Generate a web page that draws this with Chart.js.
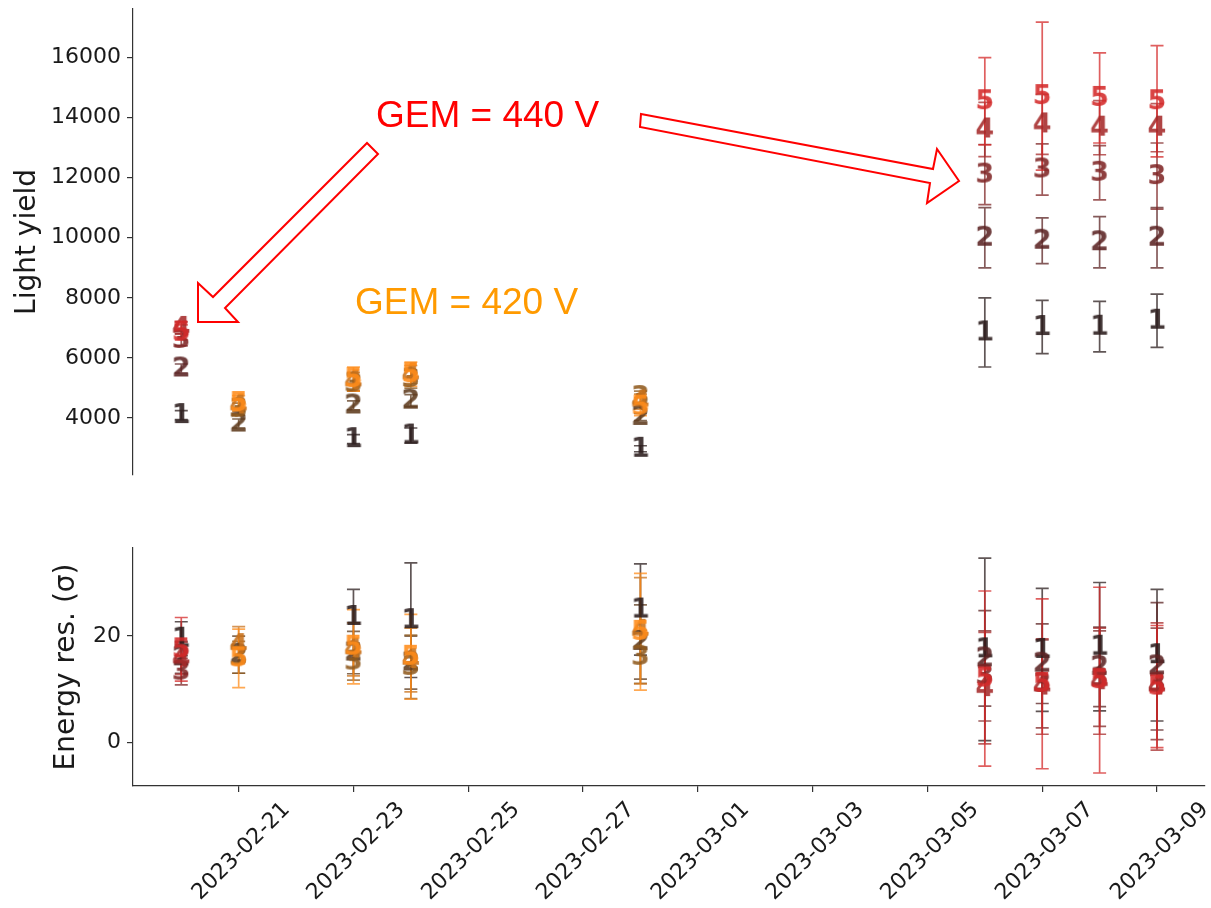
<!DOCTYPE html>
<html lang="en">
<head>
<meta charset="UTF-8">
<title>Light yield and energy resolution vs date</title>
<script src="https://cdn.jsdelivr.net/npm/chart.js"></script>
<style>
    body { margin: 0; background: #fff; }
    #wrap { position: relative; width: 1211px; height: 908px; }
    .panel { position: absolute; left: 0; width: 1211px; }
    #top { top: 0; height: 480px; }
    #bottom { top: 500px; height: 408px; }
</style>
</head>
<body>
<div id="wrap">
    <div class="panel" id="top"><canvas id="lyChart"></canvas></div>
    <div class="panel" id="bottom"><canvas id="resChart"></canvas></div>
</div>

<script>
// measurement days and GEM voltage used that day
const dates = ['2023-02-20', '2023-02-21', '2023-02-23', '2023-02-24', '2023-02-28',
               '2023-03-06', '2023-03-07', '2023-03-08', '2023-03-09'];
const gem = [440, 420, 420, 420, 420, 440, 440, 440, 440];

// light yield per spot (1..5) and its error
const ly1 = [4100, null, 3300, 3420, 2980, 6850, 7030, 7040, 7240];
const ly2 = [5650, 3820, 4420, 4580, 4040, 10000, 9900, 9850, 10000];
const ly3 = [6600, 4300, 5150, 5300, 4700, 12100, 12270, 12160, 12050];
const ly4 = [7000, 4420, 5220, 5450, 4550, 13600, 13770, 13660, 13660];
const ly5 = [6850, 4500, 5300, 5460, 4380, 14540, 14710, 14650, 14540];
const lyErr1 = [150, null, 150, 250, 100, 1150, 885, 840, 885];
const lyErr2 = [150, 150, 150, 200, 120, 1000, 760, 850, 1000];
const lyErr3 = [200, 200, 250, 300, 200, 1000, 850, 900, 1100];
const lyErr4 = [200, 200, 300, 300, 250, 900, 1000, 900, 800];
const lyErr5 = [250, 250, 400, 400, 300, 1450, 2460, 1500, 1850];

// energy resolution (sigma) per spot and its error
const res1 = [19.5, null, 23.6, 23.0, 25.0, 17.5, 17.4, 18.0, 16.4];
const res2 = [16.0, 16.5, 16.9, 15.0, 18.9, 15.8, 14.8, 14.2, 14.3];
const res3 = [13.3, 16.0, 15.2, 14.2, 16.1, 12.5, 11.0, 12.0, 11.0];
const res4 = [15.8, 18.3, 17.5, 15.5, 21.0, 10.2, 10.5, 11.5, 10.5];
const res5 = [17.5, 15.8, 18.0, 16.1, 20.8, 12.0, 11.0, 11.7, 10.5];
const resErr1 = [3.2, null, 5.2, 10.8, 8.6, 17.2, 11.6, 12.1, 12.4];
const resErr2 = [3.0, 3.5, 4.0, 5.0, 7.0, 9.0, 7.5, 7.5, 12.0];
const resErr3 = [2.5, 3.0, 3.5, 6.0, 5.0, 8.5, 8.3, 9.0, 10.5];
const resErr4 = [3.0, 3.5, 5.0, 6.0, 10.0, 10.5, 9.0, 10.0, 12.0];
const resErr5 = [6.0, 5.5, 7.0, 8.0, 11.0, 16.5, 16.0, 17.5, 11.5];

// axis ticks
const tickDates = ['2023-02-21', '2023-02-23', '2023-02-25', '2023-02-27', '2023-03-01',
                   '2023-03-03', '2023-03-05', '2023-03-07', '2023-03-09'];
const lyTicks = [4000, 6000, 8000, 10000, 12000, 14000, 16000];
const resTicks = [0, 20];

// colours of spots 1..5 for each voltage
const palette = {
    440: ['43,29,29', '91,35,35', '127,38,38', '165,42,42', '212,42,42'],
    420: ['43,29,29', '94,59,30', '143,90,30', '200,114,28', '255,140,26']
};

const day0 = Date.UTC(2023, 1, 20);
const dayNum = d => (Date.parse(d + 'T00:00:00Z') - day0) / 86400000;

const markers = {};
function marker(ch, v) {
    const key = ch + '_' + v;
    if (!markers[key]) {
        const c = document.createElement('canvas');
        c.width = 26; c.height = 30;
        const g = c.getContext('2d');
        g.font = 'bold 27px "DejaVu Sans"';
        g.textAlign = 'center';
        g.textBaseline = 'middle';
        g.fillStyle = 'rgba(' + palette[v][ch - 1] + ',0.88)';
        g.fillText(String(ch), 13, 16);
        markers[key] = c;
    }
    return markers[key];
}

// spot 5 drawn last (on top), like the original plot
function makeSets(series, errs) {
    return series.map((vals, k) => ({
        label: String(k + 1),
        data: dates.map((d, i) => ({ x: dayNum(d), y: vals[i] })),
        err: errs[k],
        spot: k + 1,
        order: series.length - 1 - k,
        pointStyle: ctx => marker(k + 1, gem[ctx.dataIndex]),
        showLine: false
    }));
}

// error bars drawn under the digit markers
const errorBars = {
    id: 'errorBars',
    beforeDatasetsDraw(chart) {
        const { ctx, scales: { x, y } } = chart;
        ctx.save();
        chart.data.datasets.forEach(ds => {
            ds.data.forEach((p, j) => {
                const e = ds.err[j];
                if (p.y == null || e == null) return;
                const px = x.getPixelForValue(p.x);
                const top = y.getPixelForValue(p.y + e);
                const bot = y.getPixelForValue(p.y - e);
                ctx.strokeStyle = 'rgba(' + palette[gem[j]][ds.spot - 1] + ',0.75)';
                ctx.lineWidth = 1.7;
                ctx.beginPath();
                ctx.moveTo(px, top); ctx.lineTo(px, bot);
                ctx.moveTo(px - 6.5, top); ctx.lineTo(px + 6.5, top);
                ctx.moveTo(px - 6.5, bot); ctx.lineTo(px + 6.5, bot);
                ctx.stroke();
            });
        });
        ctx.restore();
    }
};

// text and hollow arrows on the top panel
const notes = {
    id: 'notes',
    afterDraw(chart) {
        const ctx = chart.ctx;
        ctx.save();
        ctx.font = '37px "Liberation Sans"';
        ctx.textAlign = 'left';
        ctx.textBaseline = 'alphabetic';
        ctx.fillStyle = '#ff0000';
        ctx.fillText('GEM = 440 V', 376, 127);
        ctx.fillStyle = '#ff9a00';
        ctx.fillText('GEM = 420 V', 355, 314);
        const arrows = [
            [[198, 322], [198, 283], [213, 297], [367, 143], [378, 154], [225, 308], [238, 322]],
            [[641, 114], [933, 169], [937, 149], [959, 181], [927, 203], [930, 183], [640, 127]]
        ];
        ctx.strokeStyle = '#ff0000';
        ctx.fillStyle = '#ffffff';
        ctx.lineWidth = 2;
        ctx.lineJoin = 'miter';
        arrows.forEach(pts => {
            ctx.beginPath();
            pts.forEach(([px, py], i) => i ? ctx.lineTo(px, py) : ctx.moveTo(px, py));
            ctx.closePath();
            ctx.fill();
            ctx.stroke();
        });
        ctx.restore();
    }
};

const axisColor = '#333333';
const tickFont = { family: 'DejaVu Sans', size: 22 };
const xMin = -0.841, xMax = 17.836;

function yAxis(min, max, ticks, title, titlePad) {
    return {
        min: min, max: max,
        afterBuildTicks: s => { s.ticks = ticks.map(v => ({ value: v })); },
        afterFit: s => { s.width = 133; s.paddingTop = 0; s.paddingBottom = 0; },
        grid: { drawOnChartArea: false, drawTicks: true, tickLength: 6, color: axisColor, lineWidth: 1.2 },
        border: { display: true, color: axisColor, width: 1.2 },
        ticks: { font: tickFont, color: '#1a1a1a', padding: 6, callback: v => String(v) },
        title: { display: true, text: title, color: '#1a1a1a',
                 font: { family: 'DejaVu Sans', size: 28 }, padding: { top: titlePad, bottom: 0 } }
    };
}

const common = {
    responsive: true,
    maintainAspectRatio: false,
    animation: false,
    plugins: { legend: { display: false }, tooltip: { enabled: false } }
};

new Chart(document.getElementById('lyChart'), {
    type: 'scatter',
    data: { datasets: makeSets([ly1, ly2, ly3, ly4, ly5], [lyErr1, lyErr2, lyErr3, lyErr4, lyErr5]) },
    options: Object.assign({}, common, {
        layout: { padding: { top: 9, right: 6, bottom: 3, left: 0 } },
        scales: {
            x: { type: 'linear', display: false, min: xMin, max: xMax },
            y: yAxis(2107, 17608, lyTicks, 'Light yield', 11)
        }
    }),
    plugins: [errorBars, notes]
});

new Chart(document.getElementById('resChart'), {
    type: 'scatter',
    data: { datasets: makeSets([res1, res2, res3, res4, res5], [resErr1, resErr2, resErr3, resErr4, resErr5]) },
    options: Object.assign({}, common, {
        layout: { padding: { top: 48, right: 6, bottom: 0, left: 0 } },
        scales: {
            x: {
                type: 'linear', min: xMin, max: xMax,
                afterBuildTicks: s => { s.ticks = tickDates.map(d => ({ value: dayNum(d) })); },
                afterFit: s => { s.height = 122; s.paddingLeft = 0; s.paddingRight = 0; },
                grid: { drawOnChartArea: false, drawTicks: true, tickLength: 6, color: axisColor, lineWidth: 1.2 },
                border: { display: true, color: axisColor, width: 1.2 },
                ticks: { autoSkip: false, minRotation: 45, maxRotation: 45, labelOffset: 48, padding: 5,
                         font: tickFont, color: '#1a1a1a', callback: (v, i) => tickDates[i] }
            },
            y: yAxis(-8.25, 36.6, resTicks, 'Energy res. (σ)', 50)
        }
    }),
    plugins: [errorBars]
});
</script>
</body>
</html>
